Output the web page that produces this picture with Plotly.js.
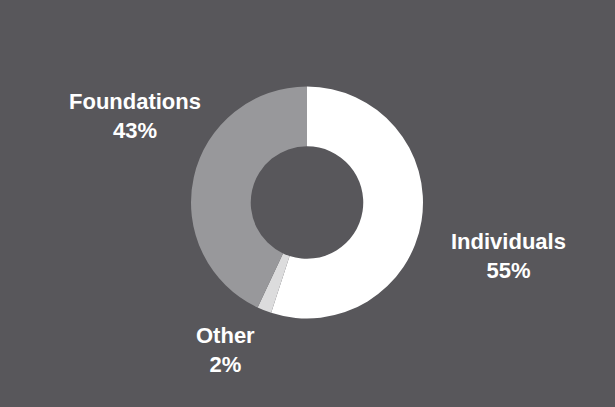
<!DOCTYPE html>
<html>
<head>
<meta charset="utf-8">
<script src="https://cdn.plot.ly/plotly-3.0.1.min.js"></script>
<style>html,body{margin:0;padding:0;background:#58575b;}#chart{width:615px;height:407px;}</style>
</head>
<body>
<div id="chart"></div>
<script>
const labels = ["Individuals", "Other", "Foundations"];
const values = [55, 2, 43];
const colors = ["#ffffff", "#dcdcdd", "#98989b"];
// label anchor positions in pixels (center of text block)
const labelPosX = [508, 225, 135];
const labelPosY = [256, 350, 116];

const W = 615, H = 407;
const cx = 307, cy = 202.5, R = 116;

const annotations = labels.map((l, i) => ({
  text: l + "<br>" + values[i] + "%",
  x: labelPosX[i] / W,
  y: 1 - labelPosY[i] / H,
  xref: "paper", yref: "paper",
  xanchor: "center", yanchor: "middle",
  showarrow: false,
  align: "center",
  font: {family: "Liberation Sans, Arial, sans-serif", size: 22, color: "#ffffff", weight: "bold"}
}));
annotations.forEach(a => { a.text = "<b>" + a.text.replace("<br>", "</b><br><b>") + "</b>"; });

Plotly.newPlot("chart", [{
  type: "pie",
  labels: labels,
  values: values,
  hole: 0.485,
  sort: false,
  direction: "clockwise",
  rotation: 0,
  textinfo: "none",
  hoverinfo: "none",
  marker: {colors: colors, line: {width: 0}},
  domain: {x: [(cx - R) / W, (cx + R) / W], y: [1 - (cy + R) / H, 1 - (cy - R) / H]},
  showlegend: false
}], {
  width: W, height: H,
  margin: {l: 0, r: 0, t: 0, b: 0},
  paper_bgcolor: "#58575b",
  plot_bgcolor: "#58575b",
  annotations: annotations
}, {staticPlot: true, displayModeBar: false});
</script>
</body>
</html>
